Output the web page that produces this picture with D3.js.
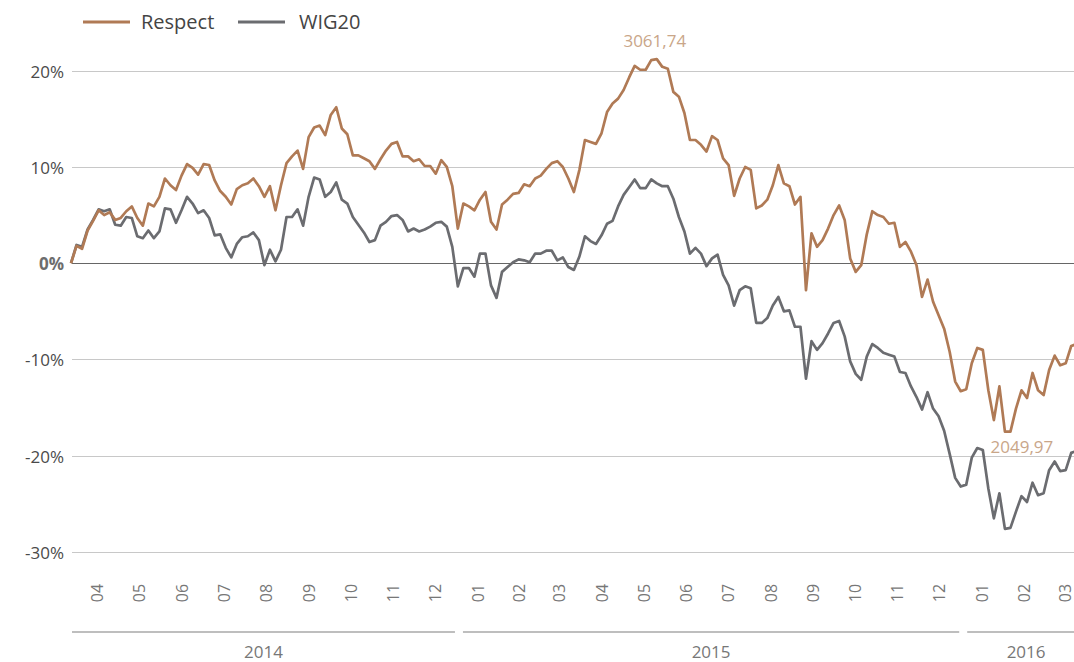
<!DOCTYPE html>
<html>
<head>
<meta charset="utf-8">
<script src="https://cdn.jsdelivr.net/npm/d3@7"></script>
<style>
  body { margin: 0; background: #fff; }
  svg { display: block; font-family: "Open Sans", sans-serif; }
</style>
</head>
<body>
<div id="chart"></div>
<script>
// start of the series and the step between samples (calendar days)
const startDate = "2014-03-28";
const stepDays = 4;

// % change since start, every 4 days
const respect = [
  0.0, 1.8, 1.5, 3.4, 4.4, 5.5, 5.0, 5.3, 4.5, 4.7,
  5.4, 5.9, 4.7, 3.9, 6.2, 5.9, 6.9, 8.8, 8.1, 7.6,
  9.1, 10.3, 9.9, 9.2, 10.3, 10.2, 8.6, 7.5, 6.9, 6.1,
  7.7, 8.1, 8.3, 8.8, 8.0, 6.9, 8.0, 5.5, 8.1, 10.4,
  11.1, 11.7, 9.8, 13.1, 14.1, 14.3, 13.3, 15.4, 16.2, 14.0,
  13.4, 11.2, 11.2, 10.9, 10.6, 9.8, 10.8, 11.7, 12.4, 12.6,
  11.1, 11.1, 10.6, 10.8, 10.1, 10.1, 9.3, 10.7, 10.0, 8.0,
  3.6, 6.2, 5.9, 5.5, 6.6, 7.4, 4.3, 3.5, 6.1, 6.6,
  7.2, 7.3, 8.2, 8.0, 8.8, 9.1, 9.8, 10.4, 10.6, 10.0,
  8.8, 7.4, 9.7, 12.8, 12.6, 12.4, 13.5, 15.7, 16.6, 17.1,
  18.0, 19.3, 20.5, 20.1, 20.1, 21.1, 21.2, 20.4, 20.2, 17.8,
  17.3, 15.6, 12.8, 12.8, 12.3, 11.6, 13.2, 12.8, 10.9, 10.2,
  7.0, 8.8, 10.0, 9.7, 5.7, 6.0, 6.6, 8.1, 10.2, 8.3,
  8.0, 6.1, 6.9, -2.8, 3.1, 1.7, 2.4, 3.6, 5.0, 6.0,
  4.5, 0.5, -0.9, -0.2, 3.0, 5.4, 5.0, 4.8, 4.1, 4.2,
  1.7, 2.2, 1.2, -0.2, -3.5, -1.7, -4.0, -5.4, -6.8, -9.2,
  -12.3, -13.3, -13.1, -10.4, -8.8, -9.0, -13.2, -16.3, -12.8, -17.5,
  -17.5, -15.1, -13.2, -14.0, -11.4, -13.2, -13.7, -11.1, -9.6, -10.6,
  -10.4, -8.6, -8.4
];

const wig20 = [
  0.0, 1.9, 1.7, 3.5, 4.5, 5.6, 5.4, 5.6, 4.0, 3.9,
  4.8, 4.7, 2.8, 2.6, 3.4, 2.6, 3.3, 5.7, 5.6, 4.2,
  5.5, 6.9, 6.2, 5.2, 5.5, 4.7, 2.9, 3.0, 1.6, 0.6,
  2.0, 2.7, 2.8, 3.2, 2.4, -0.2, 1.4, 0.2, 1.4, 4.8,
  4.8, 5.6, 3.9, 6.9, 8.9, 8.7, 6.9, 7.4, 8.4, 6.6,
  6.2, 4.8, 4.0, 3.2, 2.2, 2.4, 3.9, 4.3, 4.9, 5.0,
  4.5, 3.3, 3.6, 3.3, 3.5, 3.8, 4.2, 4.3, 3.8, 1.7,
  -2.4, -0.5, -0.5, -1.4, 1.0, 1.0, -2.3, -3.6, -0.9, -0.4,
  0.1, 0.4, 0.3, 0.1, 1.0, 1.0, 1.3, 1.3, 0.3, 0.6,
  -0.4, -0.7, 0.7, 2.8, 2.3, 2.0, 2.9, 4.1, 4.4, 5.9,
  7.1, 7.9, 8.7, 7.8, 7.8, 8.7, 8.3, 8.0, 8.0, 6.7,
  4.8, 3.3, 1.0, 1.6, 1.0, -0.3, 0.5, 0.9, -1.2, -2.3,
  -4.4, -2.8, -2.4, -2.6, -6.2, -6.2, -5.7, -4.4, -3.5, -5.0,
  -4.9, -6.6, -6.6, -12.0, -8.1, -9.0, -8.3, -7.3, -6.2, -6.0,
  -7.6, -10.2, -11.5, -12.1, -9.7, -8.4, -8.8, -9.3, -9.5, -9.7,
  -11.3, -11.4, -12.8, -13.9, -15.2, -13.4, -15.1, -15.9, -17.4, -19.8,
  -22.3, -23.2, -23.0, -20.2, -19.2, -19.4, -23.4, -26.5, -23.9, -27.6,
  -27.5, -25.8, -24.2, -24.8, -22.8, -24.1, -23.9, -21.5, -20.6, -21.6,
  -21.5, -19.7, -19.5
];

const seriesNames = ["Respect", "WIG20"];
const seriesColors = ["#b07a55", "#6b6c70"];

const months = [
  "2014-04", "2014-05", "2014-06", "2014-07", "2014-08", "2014-09",
  "2014-10", "2014-11", "2014-12", "2015-01", "2015-02", "2015-03",
  "2015-04", "2015-05", "2015-06", "2015-07", "2015-08", "2015-09",
  "2015-10", "2015-11", "2015-12", "2016-01", "2016-02", "2016-03"
];
const years = ["2014", "2015", "2016"];
const yTicks = [20, 10, 0, -10, -20, -30];

// annotation texts (index level at max / min of Respect)
const maxLabel = "3061,74";
const minLabel = "2049,97";

const W = 1074, H = 662;
const parseDay = d3.timeParse("%Y-%m-%d");
const parseMonth = d3.timeParse("%Y-%m");
const t0 = parseDay(startDate);

const x = d3.scaleTime()
  .domain([t0, parseDay("2016-03-23")])
  .range([71, 1074]);
const y = d3.scaleLinear()
  .domain([-30, 20])
  .range([552, 70.7]);

const svg = d3.select("#chart").append("svg")
  .attr("width", W)
  .attr("height", H);

// grid
svg.append("g").selectAll("line")
  .data(yTicks)
  .join("line")
  .attr("x1", 72).attr("x2", W)
  .attr("y1", d => Math.round(y(d)) + 0.5)
  .attr("y2", d => Math.round(y(d)) + 0.5)
  .attr("stroke", d => d === 0 ? "#666" : "#c8c8c8")
  .attr("stroke-width", 1.2);

svg.append("g").selectAll("text")
  .data(yTicks)
  .join("text")
  .attr("x", 64)
  .attr("y", d => y(d) + 7)
  .attr("text-anchor", "end")
  .attr("font-size", 17)
  .attr("font-weight", d => d === 0 ? 700 : 400)
  .attr("fill", d => d === 0 ? "#6d6d6d" : "#4a4a4a")
  .text(d => d + "%");

// series
const toRows = vals => vals.map((v, i) => ({date: d3.timeDay.offset(t0, i * stepDays), v}));
const allSeries = [wig20, respect].map(toRows);
const line = d3.line().x(d => x(d.date)).y(d => y(d.v));

svg.append("g").selectAll("path")
  .data(allSeries)
  .join("path")
  .attr("d", line)
  .attr("fill", "none")
  .attr("stroke", (d, i) => i === 0 ? seriesColors[1] : seriesColors[0])
  .attr("stroke-width", 2.7)
  .attr("stroke-linejoin", "round");

// annotations
const respRows = allSeries[1];
const hi = d3.greatest(respRows, d => d.v);
const lo = d3.least(respRows, d => d.v);
svg.append("text")
  .attr("x", x(hi.date) - 2)
  .attr("y", y(hi.v) - 12)
  .attr("text-anchor", "middle")
  .attr("font-size", 17)
  .attr("fill", "#c9a689")
  .text(maxLabel);
svg.append("text")
  .attr("x", x(lo.date) + 17)
  .attr("y", y(lo.v) + 21)
  .attr("text-anchor", "middle")
  .attr("font-size", 17)
  .attr("fill", "#c9a689")
  .text(minLabel);

// month labels, centred in each month
const monthG = svg.append("g");
months.forEach(m => {
  const a = parseMonth(m);
  const b = d3.timeMonth.offset(a, 1);
  const cx = (x(a) + x(b)) / 2;
  monthG.append("text")
    .attr("transform", `translate(${cx + 6},593) rotate(-90)`)
    .attr("text-anchor", "middle")
    .attr("font-size", 16)
    .attr("fill", "#777")
    .text(d3.timeFormat("%m")(a));
});

// year bands, each spanning its months on the axis
const lastMonthEnd = d3.timeMonth.offset(parseMonth(months[months.length - 1]), 1);
const yearG = svg.append("g");
years.forEach(yr => {
  const a = parseDay(yr + "-01-01");
  const b = d3.min([parseDay((+yr + 1) + "-01-01"), lastMonthEnd]);
  const xa = Math.max(72, x(a) + 6.5);
  const xb = x(b) - 1.5;
  yearG.append("line")
    .attr("x1", xa).attr("x2", xb)
    .attr("y1", 632).attr("y2", 632)
    .attr("stroke", "#a8a8a8")
    .attr("stroke-width", 1.5);
  yearG.append("text")
    .attr("x", (xa + xb) / 2)
    .attr("y", 658)
    .attr("text-anchor", "middle")
    .attr("font-size", 17)
    .attr("fill", "#777")
    .text(yr);
});

// legend
const legendX = [83, 238];
const legend = svg.append("g").selectAll("g")
  .data(seriesNames)
  .join("g")
  .attr("transform", (d, i) => `translate(${legendX[i]},22)`);
legend.append("line")
  .attr("x1", 0).attr("x2", 47)
  .attr("stroke", (d, i) => seriesColors[i])
  .attr("stroke-width", 3);
legend.append("text")
  .attr("x", (d, i) => i === 0 ? 58 : 61)
  .attr("y", 7)
  .attr("font-size", 20)
  .attr("fill", "#444")
  .text(d => d);
</script>
</body>
</html>
